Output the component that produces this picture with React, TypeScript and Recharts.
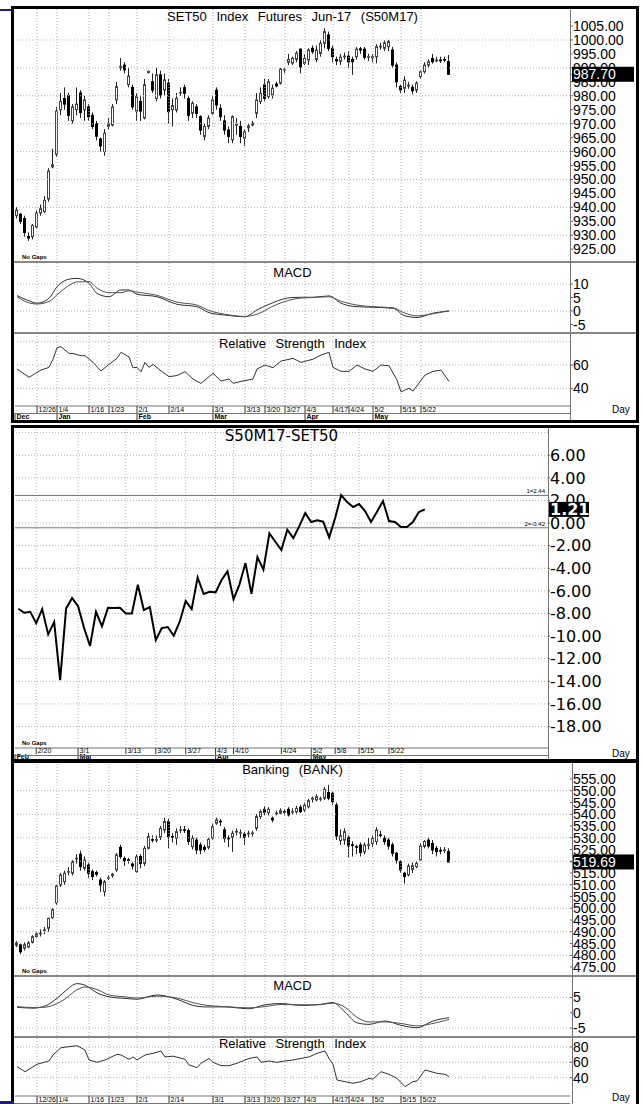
import React from "react";
import { ComposedChart, Bar, Line, XAxis, YAxis, ReferenceLine } from "recharts";

const SANS = "'Liberation Sans', Arial, Helvetica, sans-serif";
const VERD = "'DejaVu Sans', Verdana, sans-serif";

// trading-day ticks shared by the futures and banking blocks
const dayTickIdx = [5, 10, 18, 23, 30, 38, 49, 57, 62, 67, 72, 79, 83, 89, 96, 101];
const dayTickLab = ["12/26", "1/4", "1/16", "1/23", "2/1", "2/14", "3/1", "3/13", "3/20", "3/27", "4/3", "4/17", "4/24", "5/2", "5/15", "5/22"];
const monthIdx = [-0.5, 10, 30, 49, 72, 89];
const monthLab = ["Dec", "Jan", "Feb", "Mar", "Apr", "May"];

// ticks of the spread chart
const spDayIdx = [3, 10, 18, 23, 28, 33, 36, 44, 49, 53, 57, 62];
const spDayLab = ["2/20", "3/1", "3/13", "3/20", "3/27", "4/3", "4/10", "4/24", "5/2", "5/8", "5/15", "5/22"];
const spMonIdx = [-0.55, 10, 33, 49];
const spMonLab = ["Feb", "Mar", "Apr", "May"];

// SET50 Index Futures Jun-17 (S50M17)
const futOpen = [937, 937.5, 936, 929.5, 929.5, 933, 938, 938.5, 943, 954.5, 959, 975, 979, 980, 971, 975, 981, 975, 976, 973, 970, 964.5, 960, 969, 969.5, 978.5, 990, 991, 984, 983, 974.5, 978, 972, 988.3, 985, 979, 987.5, 982, 984.5, 975, 974.9, 981, 982.9, 979, 973.7, 976, 972.5, 965.4, 969, 973.7, 982, 975.5, 971, 967.7, 964.2, 969.5, 969, 964.8, 968.5, 969.5, 973.7, 977.9, 983.9, 979.7, 980.3, 984.2, 984.5, 989.2, 992, 991.7, 993, 996.7, 991.6, 992.8, 997, 993, 995.2, 998.8, 1001.8, 997, 993, 992.3, 994, 994.2, 993, 994, 996.8, 996.7, 993.8, 993.6, 994, 997.5, 997, 997.6, 996.4, 991, 983.3, 982.7, 983.5, 983, 982, 986.9, 988.6, 991, 993.4, 992.5, 992.8, 993, 992.2];
const futHigh = [940, 938, 937, 931, 934, 939, 941, 944, 954, 961, 976, 981, 983, 981, 977, 983, 982, 980, 977, 974, 971, 965, 968, 972, 977, 985, 993.5, 992, 990, 984, 981, 980, 986, 989, 988, 990, 989, 988, 986, 979, 981, 983, 984, 980, 978, 977, 973, 970, 973, 980, 983, 977, 973, 969, 973, 972, 971, 968, 970, 971, 981, 983, 986, 986, 984, 985, 990, 990, 995, 994, 996, 997, 995, 997, 998, 998, 1000, 1004.2, 1003, 998, 994, 995, 995.5, 996, 994, 997.5, 997.5, 997.5, 995, 995, 998.5, 999, 999.8, 1000, 997.5, 992, 984, 987, 985, 984, 985.2, 989, 992, 993, 995, 994, 994, 994, 994.6];
const futLow = [936, 934, 929.5, 928, 928.5, 932.5, 937, 938, 942, 954, 958, 973, 975, 971, 970, 973, 972, 971, 971, 968, 964, 960, 958.5, 968, 969, 977, 989, 988, 983, 975, 971, 971, 971.5, 988, 981, 978, 979, 980, 970, 969, 974, 980, 979, 971, 972, 972, 966, 964, 968, 973, 975, 971, 966, 963, 963, 966, 963, 962, 967, 969, 972, 977, 978, 979, 979, 983, 984, 988, 991, 991, 992, 988, 991, 991, 995, 992, 994, 997, 996, 992, 991, 991, 993, 990, 987.5, 993, 995, 993, 992.5, 992, 991.6, 996.5, 996, 996, 990, 983, 981, 981, 982.5, 980.5, 981, 986, 988, 990, 991.5, 992, 991.8, 992, 987.5];
const futClose = [939, 935, 931, 929, 933.5, 938, 939.5, 942.5, 953, 955.3, 974.5, 978, 977, 973, 976, 977, 974, 978.5, 972.5, 969, 965.5, 962, 966.5, 970, 976, 983.3, 990.5, 989.3, 987, 976, 979.7, 974.5, 984, 988.7, 982, 987.5, 980.3, 985.7, 974.3, 976.5, 979.1, 981.2, 980.9, 973, 977.3, 973.7, 967.7, 969, 972, 978.5, 976.7, 972.5, 967.7, 965.4, 972.5, 969.8, 965.4, 967.1, 969.2, 970.1, 978.5, 980.9, 979.1, 985, 982.7, 983.5, 989.5, 989.5, 993, 993.5, 995.3, 990.4, 993.4, 996.4, 995.8, 996.4, 998.8, 1003, 997, 994, 992.5, 993.8, 994.2, 992.2, 992.2, 996.7, 996.4, 993.8, 994, 994, 997.6, 997.8, 999, 999.4, 991, 985, 982.1, 985.6, 983.8, 981.8, 984.5, 988.6, 991, 992.2, 992.2, 992.8, 992.5, 992.8, 987.7];
const futTicks = [925, 930, 935, 940, 945, 950, 955, 960, 965, 970, 975, 980, 985, 990, 995, 1000, 1005];
const futGrid = [930, 940, 950, 960, 970, 980, 990, 1000];

const futMacdIdx = [0, 3, 5, 8, 10, 13, 15, 18, 20, 23, 26, 28, 30, 35, 40, 45, 48, 52, 57, 60, 64, 68, 71, 74, 78, 81, 85, 89, 94, 97, 100, 104, 108];
const futMacd = [5.7, 3.8, 2.9, 4.7, 9.0, 11.8, 12.1, 10.3, 6.5, 5.3, 7.8, 7.8, 6.2, 5.3, 2.5, 1.6, -0.6, -1.5, -2.1, 0.4, 3.1, 4.9, 5.1, 5.1, 5.6, 2.9, 1.6, 1.4, 1.0, -1.8, -2.4, -0.8, 0.0];
const futSignal = [5.3, 3.0, 2.6, 3.5, 6.0, 9.5, 10.8, 10.9, 8.5, 6.8, 6.8, 7.5, 7.0, 5.8, 3.3, 2.2, 0.2, -1.2, -2.0, -1.2, 1.8, 4.0, 4.8, 5.0, 5.3, 3.6, 2.2, 1.6, 1.2, -0.8, -1.8, -1.0, 0.1];

const futRsiIdx = [0, 3, 6, 8, 9, 10, 11, 13, 14, 16, 17, 19, 21, 23, 25, 26, 28, 29, 30, 31, 32, 33, 34, 36, 38, 40, 42, 44, 46, 49, 51, 53, 54, 56, 59, 60, 62, 64, 66, 69, 71, 74, 76, 78, 79, 81, 83, 85, 87, 89, 91, 93, 95, 96, 98, 99, 102, 104, 106, 108];
const futRsi = [56.6, 49.5, 55.7, 58, 65, 74.8, 75.7, 70, 69.9, 68, 68, 62.3, 54.9, 60.6, 65.7, 70.9, 67, 57.7, 58, 54.3, 62.3, 58, 60.6, 55, 50, 51, 54.3, 48, 44.3, 52.9, 46.3, 48, 44.3, 46, 48, 56.6, 60, 57.7, 63.4, 65.7, 62.3, 65, 68.6, 70.9, 58, 54.6, 54.6, 60, 56.6, 54.6, 60, 59.4, 47.1, 37.1, 40, 37.7, 51.4, 54.6, 55.7, 46];

// S50M17 - SET50 spread
const spread = [-7.58, -7.94, -7.85, -8.85, -7.61, -9.85, -8.76, -13.89, -7.55, -6.64, -7.35, -9.27, -10.88, -7.85, -9.14, -7.5, -7.52, -7.5, -7.99, -7.99, -5.46, -7.7, -7.43, -10.35, -9.29, -9.2, -9.97, -8.73, -6.9, -7.61, -4.81, -6.28, -6.08, -6.13, -5.04, -4.27, -6.75, -5.42, -3.54, -6.26, -3.01, -4.13, -0.91, -1.65, -2.39, -0.59, -1.33, -0.27, 0.88, 0.09, 0.24, 0.12, -1.27, 0.44, 2.48, 1.86, 1.42, 1.68, 1.06, 0.09, 1.0, 1.95, 0.18, 0.09, -0.35, -0.35, 0.09, 0.97, 1.21];
const spTicks = [6, 4, 2, 0, -2, -4, -6, -8, -10, -12, -14, -16, -18];
const spGrid = [8, 6, 4, 2, 0, -2, -4, -6, -8, -10, -12, -14, -16, -18];
const spUpper = 2.44;
const spLower = -0.42;

// Banking (BANK)
const bankOpen = [484.3, 484.4, 483, 483.5, 485.5, 488, 489.2, 490.5, 491.5, 496, 502.4, 509.9, 511.3, 515.5, 514.9, 521, 523, 517, 518.4, 515.6, 515.2, 512, 507.1, 512.8, 513.9, 516.3, 525.9, 521.2, 520.6, 518.8, 515.6, 522, 519.1, 525.5, 529.2, 529, 530.2, 533.3, 536.9, 530.5, 529.8, 533.3, 533.4, 533, 526.2, 529, 526.9, 525.9, 525.9, 529.8, 536.2, 537, 533.3, 529.8, 530.2, 532.5, 532.1, 531.6, 531.8, 531.8, 534, 539, 542.1, 540.7, 538.3, 540.4, 540.4, 541.1, 542.1, 541, 541.1, 543, 541.8, 543.2, 546.4, 546.1, 546.4, 546.8, 549.2, 548.9, 543.9, 528.8, 529, 530.2, 527, 526.2, 526.9, 524, 526.8, 527.5, 528.4, 531.2, 529.8, 529, 527, 523.4, 519.8, 514.9, 514.2, 516.5, 517.7, 520.6, 526.3, 529, 527.6, 525.5, 524.6, 524.8, 524.1];
const bankHigh = [486, 485, 485.5, 486, 488.5, 490, 491, 492, 496, 500, 510, 515, 516, 517.5, 520.5, 523, 524.5, 522, 519.5, 516.5, 516, 513, 512, 514, 515, 523.5, 527, 522, 521.5, 519.5, 523, 523, 526.5, 532, 531, 531, 535, 538.5, 538, 532, 534, 535, 535, 534, 531, 530, 528, 527, 530, 536, 538.5, 538, 534.5, 531, 533, 534, 533.5, 532.5, 533, 533, 540, 542, 543.5, 543, 539, 541.5, 542.5, 542, 543, 542.5, 543.5, 544, 545, 546.5, 547.5, 548.5, 547.5, 551.5, 552.5, 549.5, 545, 533.5, 534, 531, 528.5, 527, 528, 528, 530, 531, 534.5, 533, 531, 530, 528, 524, 520.5, 515.5, 519, 519.5, 520, 527.5, 529, 530, 529, 526.5, 526, 526, 525.5];
const bankLow = [483.5, 480.5, 482, 483, 485, 487.5, 488, 489, 490, 495.5, 501.5, 509, 510, 514, 514, 519, 516, 516, 513, 512, 513.5, 507, 505, 512, 513, 515.5, 521, 518, 519, 516.5, 515, 517, 518, 525, 528, 528, 529, 532, 525.5, 528, 527, 532, 532, 527, 525, 523, 523, 524, 525, 529, 535.5, 535, 528, 526, 524, 531, 530, 527, 530, 530.5, 533, 538, 539.5, 539.5, 536.5, 539.5, 540, 539.5, 539, 540, 540, 540.5, 541, 542.5, 545, 545.5, 545.5, 546, 546, 544, 529, 527, 527, 521.5, 522, 523, 522, 523, 525, 526, 527, 530, 527, 525, 522, 519, 515, 510.5, 513.5, 515, 517, 520, 525.5, 525.5, 523, 522, 523, 523.5, 519.5];
const bankClose = [485.2, 481.5, 484.5, 485.3, 487.9, 489.1, 489.4, 490.8, 495.7, 499.3, 509.5, 514.2, 514.9, 515.6, 519.8, 521.3, 517.7, 520.5, 514.9, 513.5, 514.5, 509.9, 511.3, 513, 514.5, 522.7, 522, 520.2, 520.5, 518, 521.9, 519.1, 525.5, 530.5, 529, 529.2, 534, 536.9, 530.5, 530.2, 532.6, 533.4, 533.2, 528.4, 529.8, 524.8, 524.8, 525.1, 529.3, 534.7, 537.6, 536.8, 529.8, 529.7, 531.9, 532.7, 532.2, 530.2, 531.9, 532, 539, 541.1, 540.7, 542.1, 537.6, 540.5, 541.5, 541, 539.7, 541.1, 542.5, 541.1, 543.9, 545.8, 546.8, 547.5, 546.6, 550.6, 546.8, 545.4, 530.8, 530.8, 532.6, 526.5, 526.8, 526, 523.7, 526.9, 527, 529.7, 533.3, 531.1, 528.4, 526.5, 523.4, 520.5, 516.3, 513.5, 518, 518.1, 519.1, 526.5, 528.4, 526.5, 524.8, 524.1, 524.5, 524.8, 519.69];
const bankTicks = [475, 480, 485, 490, 495, 500, 505, 510, 515, 520, 525, 530, 535, 540, 545, 550, 555];
const bankGrid = [480, 490, 500, 510, 520, 530, 540, 550];

const bankMacdIdx = [0, 4, 7, 10, 12, 15, 17, 20, 23, 27, 30, 35, 40, 44, 47, 52, 58, 62, 66, 71, 75, 79, 82, 85, 88, 92, 96, 100, 104, 108];
const bankMacd = [1.8, 1.5, 2.2, 4.7, 7.0, 9.5, 9.0, 6.5, 5.2, 4.7, 4.4, 5.8, 4.4, 2.4, 1.9, 1.9, 1.3, 2.6, 3.0, 2.4, 2.6, 3.3, 0.2, -3.3, -3.8, -2.7, -4.1, -4.9, -2.7, -1.6];
const bankSignal = [2.0, 1.7, 1.8, 3.0, 4.5, 7.5, 8.4, 7.6, 5.8, 5.2, 4.8, 5.4, 4.8, 3.3, 2.5, 2.0, 1.6, 2.0, 2.7, 2.6, 2.6, 3.1, 1.8, -1.5, -3.0, -3.0, -3.5, -4.3, -3.5, -2.2];

const bankRsiIdx = [0, 2, 5, 8, 9, 11, 13, 15, 17, 18, 20, 22, 25, 26, 28, 29, 30, 32, 34, 36, 37, 39, 42, 43, 45, 46, 48, 49, 51, 53, 55, 58, 60, 61, 63, 65, 67, 69, 71, 73, 75, 77, 78, 79, 80, 82, 84, 86, 88, 89, 91, 93, 95, 97, 99, 100, 102, 105, 107, 108];
const bankRsi = [54.3, 47.7, 57.4, 61.7, 69.5, 79, 80.4, 81.7, 76, 63, 60, 63, 70.4, 69.5, 64, 67, 63, 69.5, 71.7, 74.7, 67, 68, 64, 56.5, 53, 58.7, 65, 60, 55.6, 55.6, 58.7, 65, 67, 60, 61.7, 60, 61.7, 63, 65, 67, 71.7, 74.7, 65, 57.4, 36.9, 34.7, 32.6, 34.7, 39, 38, 47.7, 44.3, 39, 28.2, 34.7, 35.6, 50, 45.6, 44.3, 41.3];

const STOCK_X: [number, number] = [-0.5, 138.25];
const SPREAD_X: [number, number] = [-0.55, 88.6];
const GRID = "#b4b4b4";

function Candle(props: any) {
  const { x, y, width, height, payload } = props;
  const { o, h, l, c } = payload;
  if (!(h > l)) return null;
  const k = height / (h - l);
  const py = (v: number) => y + (h - v) * k;
  const cx = Math.floor(x + width / 2) + 0.5;
  const top = py(Math.max(o, c));
  const bot = py(Math.min(o, c));
  const up = c >= o;
  return (
    <g>
      <line x1={cx} x2={cx} y1={y} y2={y + height} stroke="#222" strokeWidth={1} />
      <rect x={cx - 1} y={top} width={2} height={Math.max(bot - top, 0.6)} fill={up ? "#fff" : "#000"} stroke={up ? "#444" : "#000"} strokeWidth={1} />
    </g>
  );
}

// right-hand value labels; the last value gets the black box and is listed last so it sits on top
function rightTick(fmt: (v: number) => string, size: number, family: string, box?: { v: number; w: number; bold?: boolean }) {
  return (p: any) => {
    const v = p.payload.value;
    if (box && v === box.v) {
      return (
        <g>
          <rect x={p.x - 1} y={p.y - 7.5} width={box.w} height={15} fill="#000" />
          <text x={p.x} y={p.y} dy="0.36em" fill="#fff" fontSize={size} fontFamily={family} fontWeight={box.bold ? "bold" : "normal"}>
            {fmt(v)}
          </text>
        </g>
      );
    }
    return (
      <text x={p.x} y={p.y} dy="0.36em" textAnchor="start" fontSize={size} fontFamily={family} fill="#000">
        {fmt(v)}
      </text>
    );
  };
}

function dateTick(dIdx: number[], dLab: string[], mIdx: number[], mLab: string[], row: number) {
  return (p: any) => {
    const { x, y, payload } = p;
    const d = dIdx.indexOf(payload.value);
    const m = mIdx.indexOf(payload.value);
    return (
      <g fontFamily={SANS} fontSize={7} fill="#000">
        {d >= 0 && <line x1={x} x2={x} y1={y} y2={y + row} stroke="#333" />}
        {d >= 0 && <text x={x + 1.5} y={y + row - 0.8}>{dLab[d]}</text>}
        {m >= 0 && <line x1={x} x2={x} y1={y + row} y2={y + 2 * row} stroke="#333" />}
        {m >= 0 && (
          <text x={x + 1.5} y={y + 2 * row - 0.8} fontWeight="bold">
            {mLab[m]}
          </text>
        )}
      </g>
    );
  };
}

const hLines = (vals: number[]) =>
  vals.map((v) => <ReferenceLine key={"h" + v} y={v} stroke={GRID} strokeDasharray="1 2" />);
const vLines = (vals: number[]) =>
  vals.map((v) => <ReferenceLine key={"v" + v} x={v} stroke={GRID} strokeDasharray="1 2" />);

function PricePanel({ rows, height, domain, ticks, grid, last }: any) {
  return (
    <ComposedChart width={622} height={height} data={rows} margin={{ top: 0, right: 0, bottom: 0, left: 1 }}>
      <XAxis type="number" dataKey="i" domain={STOCK_X} hide allowDataOverflow />
      <YAxis
        orientation="right"
        width={66}
        type="number"
        domain={domain}
        ticks={[...ticks, last]}
        interval={0}
        allowDataOverflow
        axisLine={false}
        tickLine={{ stroke: "#666" }}
        tickSize={3}
        tickMargin={0}
        tick={rightTick((v) => v.toFixed(2), 14, SANS, { v: last, w: 62 })}
      />
      {hLines(grid)}
      {vLines(dayTickIdx)}
      <Bar dataKey={(d: any) => [d.l, d.h]} barSize={3} shape={<Candle />} isAnimationActive={false} />
    </ComposedChart>
  );
}

function MacdPanel({ rows, height, domain, ticks, grid }: any) {
  return (
    <ComposedChart width={622} height={height} data={rows} margin={{ top: 0, right: 0, bottom: 0, left: 1 }}>
      <XAxis type="number" dataKey="i" domain={STOCK_X} hide allowDataOverflow />
      <YAxis
        orientation="right"
        width={66}
        type="number"
        domain={domain}
        ticks={ticks}
        interval={0}
        allowDataOverflow
        axisLine={false}
        tickLine={{ stroke: "#666" }}
        tickSize={3}
        tickMargin={0}
        tick={rightTick((v) => String(v), 14, SANS)}
      />
      {hLines(grid)}
      {vLines(dayTickIdx)}
      <Line type="monotone" dataKey="m" stroke="#333" strokeWidth={1} dot={false} isAnimationActive={false} />
      <Line type="monotone" dataKey="s" stroke="#555" strokeWidth={1} dot={false} isAnimationActive={false} />
    </ComposedChart>
  );
}

function RsiPanel({ rows, height, domain, ticks, grid }: any) {
  const all = Array.from(new Set([...dayTickIdx, ...monthIdx])).sort((a, b) => a - b);
  return (
    <ComposedChart width={622} height={height} data={rows} margin={{ top: 0, right: 0, bottom: 0, left: 1 }}>
      <XAxis
        type="number"
        dataKey="i"
        domain={STOCK_X}
        allowDataOverflow
        ticks={all}
        interval={0}
        height={14}
        tickLine={false}
        tickSize={0}
        tickMargin={0}
        axisLine={{ stroke: "#777" }}
        tick={dateTick(dayTickIdx, dayTickLab, monthIdx, monthLab, 7)}
      />
      <YAxis
        orientation="right"
        width={66}
        type="number"
        domain={domain}
        ticks={ticks}
        interval={0}
        allowDataOverflow
        axisLine={false}
        tickLine={{ stroke: "#666" }}
        tickSize={3}
        tickMargin={0}
        tick={rightTick((v) => String(v), 14, SANS)}
      />
      {hLines(grid)}
      {vLines(dayTickIdx)}
      <Line type="linear" dataKey="r" stroke="#333" strokeWidth={1} dot={false} isAnimationActive={false} />
    </ComposedChart>
  );
}

const refLabel = (text: string) => (p: any) => (
  <text x={p.viewBox.x + p.viewBox.width - 3} y={p.viewBox.y - 2} textAnchor="end" fontSize={6} fontFamily={SANS}>
    {text}
  </text>
);

function SpreadPanel() {
  const rows = spread.map((v, i) => ({ i, v }));
  const all = Array.from(new Set([...spDayIdx, ...spMonIdx])).sort((a, b) => a - b);
  const last = spread[spread.length - 1];
  return (
    <ComposedChart width={622} height={332} data={rows} margin={{ top: 0, right: 0, bottom: 0, left: 1 }}>
      <XAxis
        type="number"
        dataKey="i"
        domain={SPREAD_X}
        allowDataOverflow
        ticks={all}
        interval={0}
        height={12}
        tickLine={false}
        tickSize={0}
        tickMargin={0}
        axisLine={{ stroke: "#777" }}
        tick={dateTick(spDayIdx, spDayLab, spMonIdx, spMonLab, 6)}
      />
      <YAxis
        orientation="right"
        width={88}
        type="number"
        domain={[-19.9, 8.41]}
        ticks={[...spTicks, last]}
        interval={0}
        allowDataOverflow
        axisLine={false}
        tickLine={{ stroke: "#666" }}
        tickSize={2}
        tickMargin={0}
        tick={rightTick((v) => v.toFixed(2), 16, VERD, { v: last, w: 40, bold: true })}
      />
      {hLines(spGrid)}
      {vLines(spDayIdx)}
      <ReferenceLine y={spUpper} stroke="#777" label={refLabel("1=" + spUpper.toFixed(2))} />
      <ReferenceLine y={spLower} stroke="#777" label={refLabel("2=" + spLower.toFixed(2))} />
      <Line type="linear" dataKey="v" stroke="#000" strokeWidth={2} dot={false} isAnimationActive={false} />
    </ComposedChart>
  );
}

const abs = (s: React.CSSProperties): React.CSSProperties => ({ position: "absolute", ...s });
const frame = (left: number, top: number, width: number, height: number) => (
  <div style={abs({ left, top, width, height, border: "3px solid #000", boxSizing: "border-box" })} />
);
const hr = (left: number, top: number, width: number, h = 1, color = "#888") => (
  <div style={abs({ left, top, width, height: h, background: color })} />
);
const vr = (left: number, top: number, height: number) => (
  <div style={abs({ left, top, width: 1, height, background: "#777" })} />
);
const title = (text: string, left: number, width: number, top: number, size = 13, family = SANS) => (
  <div
    style={abs({
      left,
      top,
      width,
      textAlign: "center",
      fontSize: size,
      fontFamily: family,
      lineHeight: `${size + 2}px`,
      wordSpacing: family === SANS ? 6 : 0,
      whiteSpace: "pre",
      color: "#000",
    })}
  >
    {text}
  </div>
);
const small = (text: string, left: number, top: number, size = 6, bold = true) => (
  <div style={abs({ left, top, fontSize: size, fontWeight: bold ? "bold" : "normal", fontFamily: SANS, lineHeight: "8px" })}>
    {text}
  </div>
);

export default function App() {
  const futRows = futOpen.map((o, i) => ({ i, o, h: futHigh[i], l: futLow[i], c: futClose[i] }));
  const bankRows = bankOpen.map((o, i) => ({ i, o, h: bankHigh[i], l: bankLow[i], c: bankClose[i] }));
  const futMacdRows = futMacdIdx.map((i, k) => ({ i, m: futMacd[k], s: futSignal[k] }));
  const bankMacdRows = bankMacdIdx.map((i, k) => ({ i, m: bankMacd[k], s: bankSignal[k] }));
  const futRsiRows = futRsiIdx.map((i, k) => ({ i, r: futRsi[k] }));
  const bankRsiRows = bankRsiIdx.map((i, k) => ({ i, r: bankRsi[k] }));

  return (
    <div style={abs({ left: 0, top: 0, width: 643, height: 1104, overflow: "hidden", background: "#fff", fontFamily: SANS })}>
      {/* top block: futures */}
      <div style={abs({ left: 14, top: 9 })}>
        <PricePanel rows={futRows} height={253} domain={[920.4, 1011.1]} ticks={futTicks} grid={futGrid} last={futClose[futClose.length - 1]} />
      </div>
      <div style={abs({ left: 14, top: 263 })}>
        <MacdPanel rows={futMacdRows} height={70} domain={[-8.15, 17.8]} ticks={[10, 5, 0, -5]} grid={[10, 0]} />
      </div>
      <div style={abs({ left: 14, top: 334 })}>
        <RsiPanel rows={futRsiRows} height={86} domain={[24.9, 86.6]} ticks={[60, 40]} grid={[80, 60, 40]} />
      </div>
      {hr(14, 261, 622, 2)}
      {hr(14, 332, 622, 2)}
      {hr(14, 413, 556, 1, "#777")}
      {vr(570, 9, 411)}
      {title("SET50 Index Futures Jun-17 (S50M17)", 15, 555, 9)}
      {title("MACD", 15, 555, 265)}
      {title("Relative Strength Index", 15, 555, 336)}
      {small("No Gaps", 22, 253)}
      {small("Day", 612, 406, 10, false)}
      {frame(11, 6, 628, 417)}

      {/* middle block: spread */}
      <div style={abs({ left: 14, top: 428 })}>
        <SpreadPanel />
      </div>
      {hr(14, 755, 534, 1, "#777")}
      {vr(548, 428, 332)}
      {title("S50M17-SET50", 15, 533, 428, 15, VERD)}
      {small("No Gaps", 22, 739)}
      {small("Day", 612, 750, 10, false)}
      {frame(11, 425, 628, 337)}

      {/* bottom block: banking */}
      <div style={abs({ left: 14, top: 763 })}>
        <PricePanel rows={bankRows} height={212} domain={[471.6, 561.8]} ticks={bankTicks} grid={bankGrid} last={bankClose[bankClose.length - 1]} />
      </div>
      <div style={abs({ left: 14, top: 976 })}>
        <MacdPanel rows={bankMacdRows} height={60} domain={[-7.6, 12.0]} ticks={[5, 0, -5]} grid={[5, -5]} />
      </div>
      <div style={abs({ left: 14, top: 1037 })}>
        <RsiPanel rows={bankRsiRows} height={73} domain={[16, 93]} ticks={[80, 60, 40]} grid={[80, 60, 40]} />
      </div>
      {hr(14, 975, 622, 2)}
      {hr(14, 1036, 622, 2)}
      {hr(14, 1103, 556, 1, "#777")}
      {vr(572, 763, 341)}
      {title("Banking (BANK)", 15, 555, 762)}
      {title("MACD", 15, 555, 978)}
      {title("Relative Strength Index", 15, 555, 1036)}
      {small("No Gaps", 22, 967)}
      {small("Day", 612, 1094, 10, false)}
      {frame(11, 760, 628, 360)}

      <div style={abs({ left: 0, top: 9, width: 11, height: 2, background: "#1c1c8c" })} />
      <div style={abs({ left: 0, top: 1101, width: 14, height: 3, background: "#1c1c8c" })} />
    </div>
  );
}
